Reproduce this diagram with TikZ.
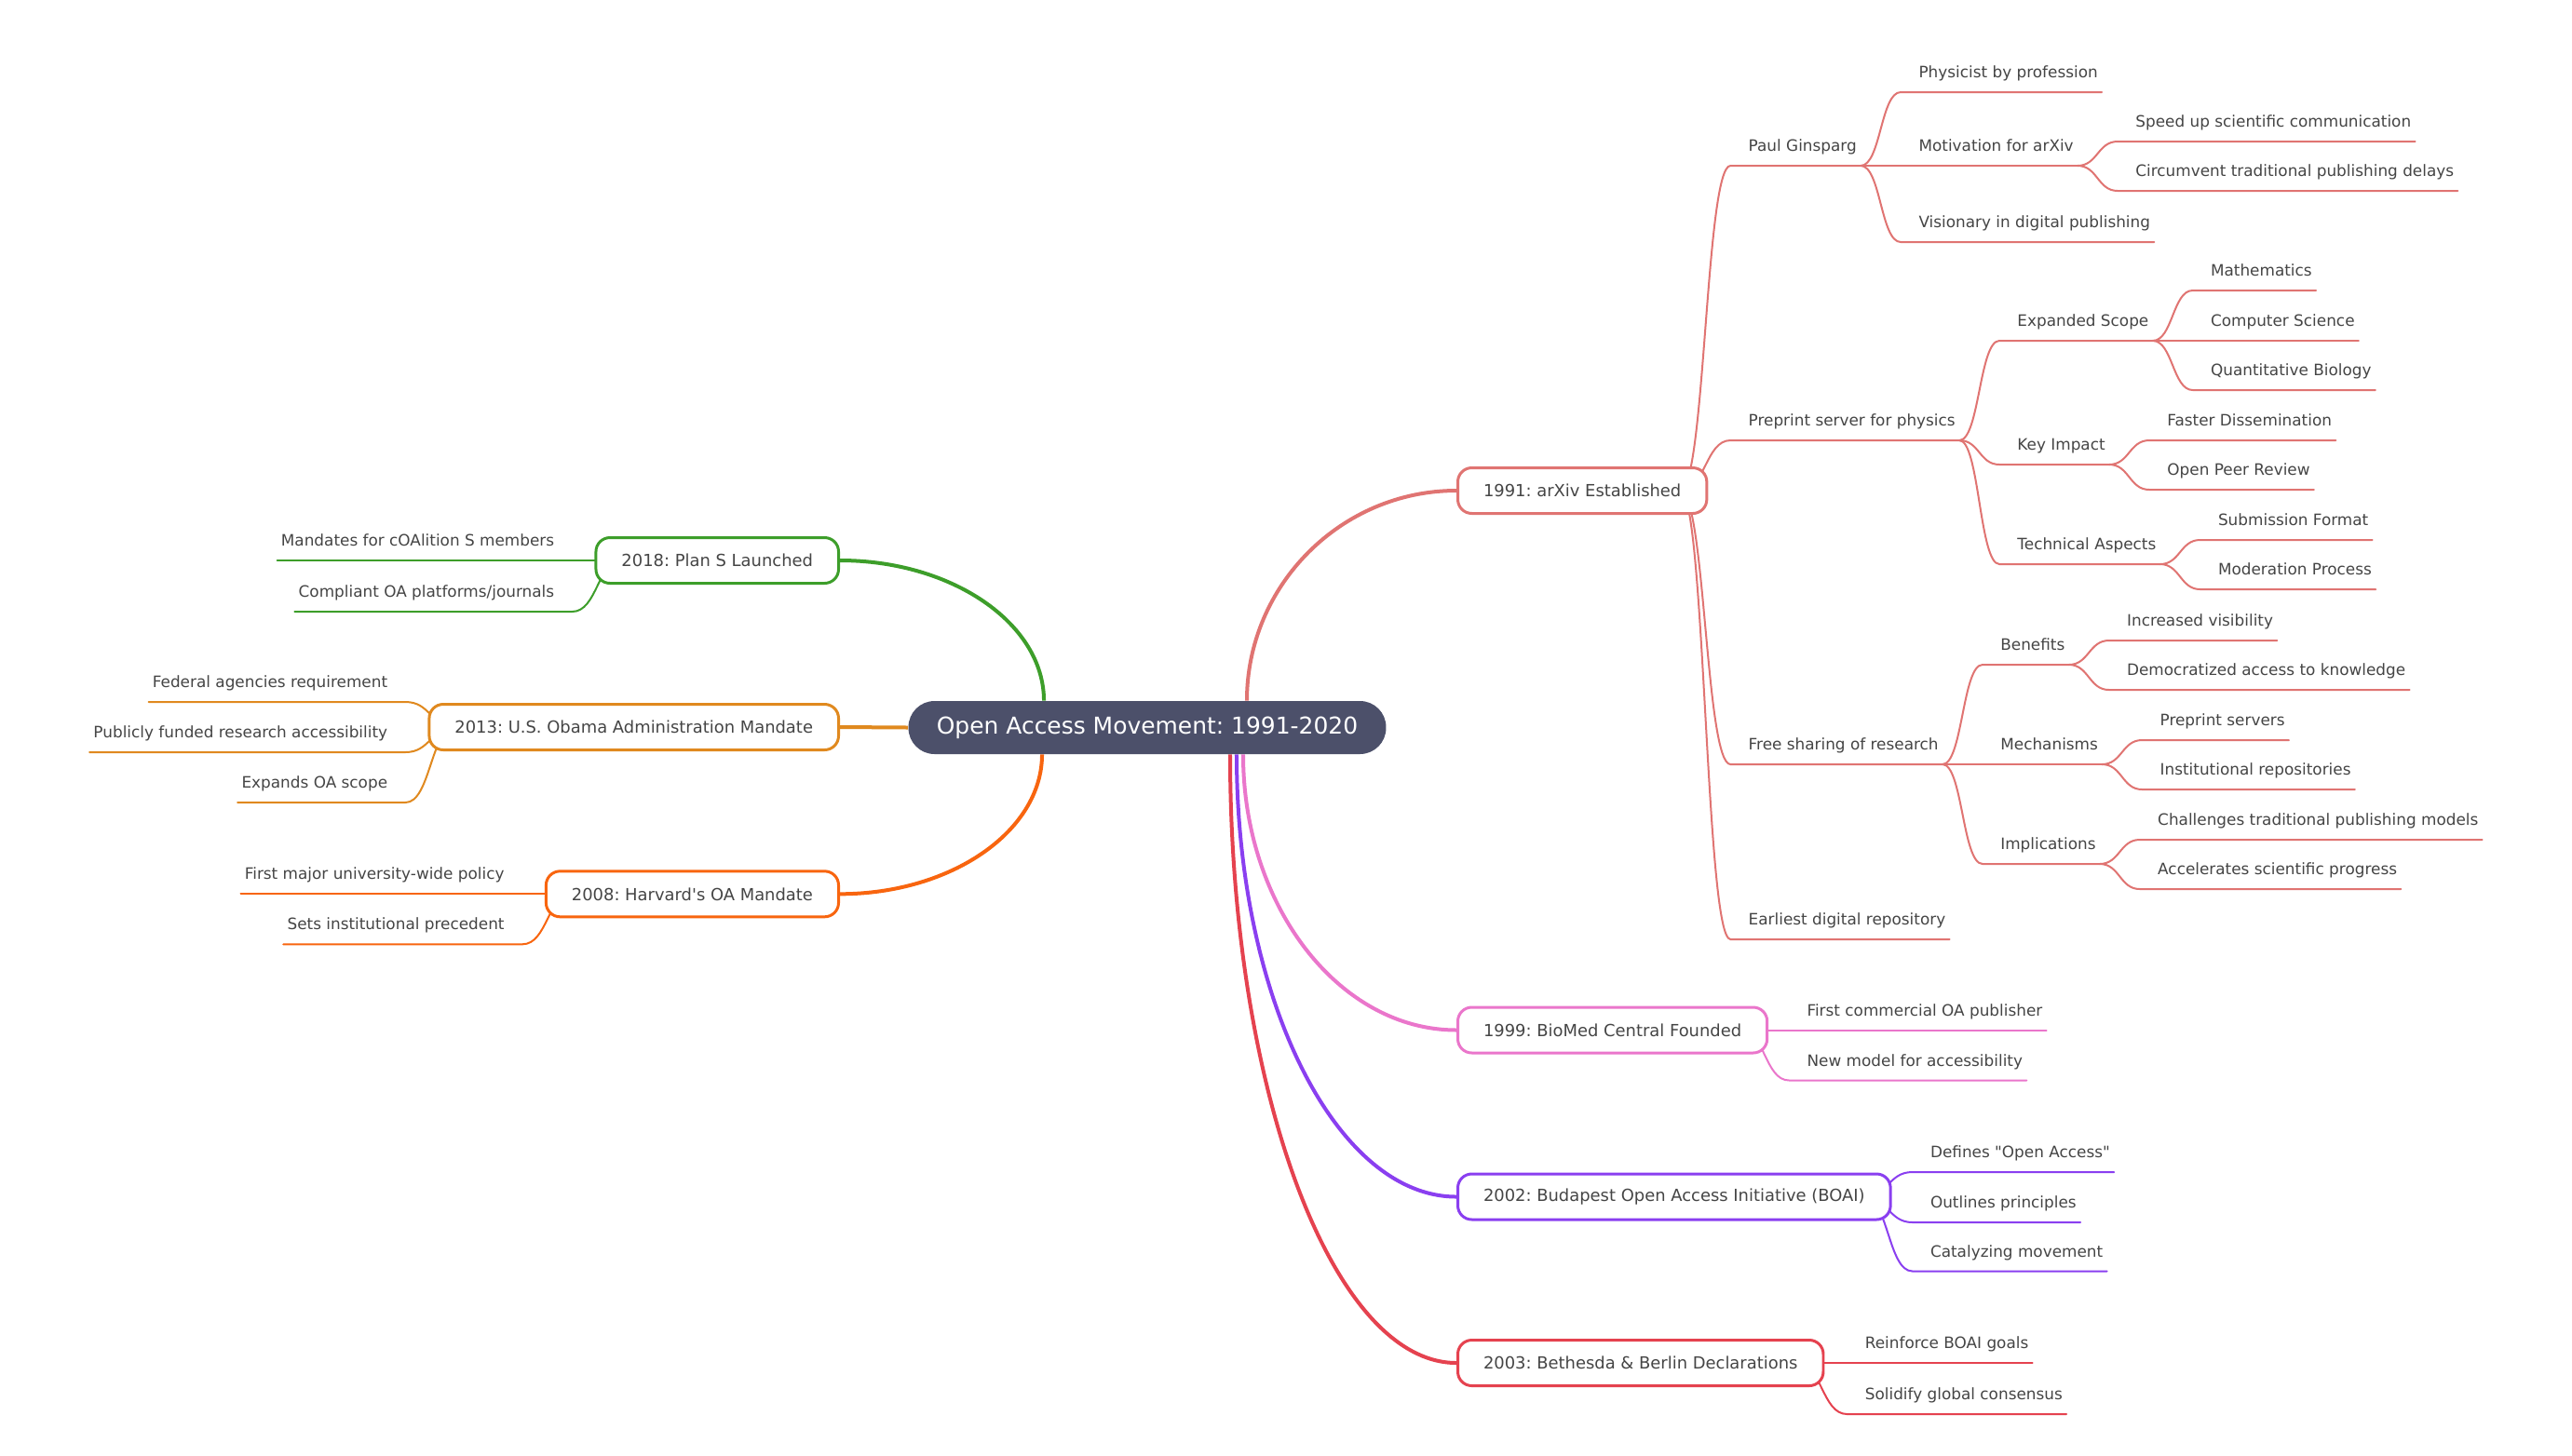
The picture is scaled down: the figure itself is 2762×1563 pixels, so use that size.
\documentclass[tikz,border=0pt]{standalone}
\usepackage{fontspec}
\newfontfamily\dejavu{DejaVu Sans}
\usetikzlibrary{calc, backgrounds}
\frenchspacing

\definecolor{txt}{HTML}{454545}
\definecolor{rootc}{HTML}{4C506A}
\definecolor{axc}{HTML}{E07472}
\definecolor{bmc}{HTML}{EA76CB}
\definecolor{boc}{HTML}{8A3FF0}
\definecolor{bbc}{HTML}{E5424F}
\definecolor{hvc}{HTML}{F8650F}
\definecolor{obc}{HTML}{E0891F}
\definecolor{plc}{HTML}{3D9E2A}

\begin{document}
\begin{tikzpicture}[
    x=0.02cm, y=-0.02cm,
    root/.style={fill=rootc, text=white, rounded corners=0.56cm, minimum width=10.26cm, minimum height=1.14cm, font=\dejavu\fontsize{14.2}{17}\selectfont},
    year/.style={draw, fill=white, line width=0.06cm, rounded corners=0.3cm, minimum height=0.98cm, inner xsep=0.55cm, text=txt, font=\dejavu\fontsize{10.2}{12}\selectfont},
    leaf/.style={anchor=south west, inner sep=0pt, text depth=0.3cm, text=txt, font=\dejavu\fontsize{9.6}{11}\selectfont,
        execute at begin node={\hspace*{0.38cm}}, execute at end node={\hspace*{0.08cm}}},
    lleaf/.style={anchor=south east, inner sep=0pt, text depth=0.3cm, text=txt, font=\dejavu\fontsize{9.6}{11}\selectfont,
        execute at begin node={\hspace*{0.08cm}}, execute at end node={\hspace*{0.38cm}}},
    trunk/.style={line width=0.08cm, to path={.. controls ($(\tikztostart)!0.55!(\tikztostart |- \tikztotarget)$) and ($(\tikztotarget)!0.55!(\tikztostart |- \tikztotarget)$) .. (\tikztotarget)}},
    link/.style={line width=0.04cm, line cap=round, to path={.. controls ($(\tikztostart)!0.5!(\tikztostart -| \tikztotarget)$) and ($(\tikztotarget)!0.5!(\tikztotarget -| \tikztostart)$) .. (\tikztotarget)}}
]
\useasboundingbox (0,0) rectangle (2762,1563);

\node[root] (root) at (1232,781.5) {Open Access Movement: 1991-2020};

\node[year, draw=axc, anchor=west] (ax) at (1564,527) {1991: arXiv Established};
\node[year, draw=bmc, anchor=west] (bm) at (1564,1106.5) {1999: BioMed Central Founded};
\node[year, draw=boc, anchor=west] (bo) at (1564,1285.5) {2002: Budapest Open Access Initiative (BOAI)};
\node[year, draw=bbc, anchor=west] (bb) at (1564,1464) {2003: Bethesda \& Berlin Declarations};
\node[year, draw=plc, anchor=east] (pl) at (902,602) {2018: Plan S Launched};
\node[year, draw=obc, anchor=east] (ob) at (902,781) {2013: U.S. Obama Administration Mandate};
\node[year, draw=hvc, anchor=east] (hv) at (902,960.3) {2008: Harvard's OA Mandate};

\coordinate (t-ax) at ([xshift=2.14cm]root.north);
\coordinate (t-pl) at ([xshift=-2.22cm]root.north);
\coordinate (t-bm) at ([xshift=2.06cm]root.south);
\coordinate (t-bo) at ([xshift=1.92cm]root.south);
\coordinate (t-bb) at ([xshift=1.78cm]root.south);
\coordinate (t-hv) at ([xshift=-2.26cm]root.south);

\coordinate (ax-o) at ([xshift=-0.6cm]ax.east);
\coordinate (bm-o) at ([xshift=-0.6cm]bm.east);
\coordinate (bo-o) at ([xshift=-0.6cm]bo.east);
\coordinate (bb-o) at ([xshift=-0.6cm]bb.east);
\coordinate (pl-o) at ([xshift=0.6cm]pl.west);
\coordinate (ob-o) at ([xshift=0.6cm]ob.west);
\coordinate (hv-o) at ([xshift=0.6cm]hv.west);

% 1991
\node[leaf] (pg) at ([shift={(24,-349)}]ax.east) {Paul Ginsparg};
\node[leaf] (pg1) at ([shift={(43,-79)}]pg.south east) {Physicist by profession};
\node[leaf] (pg2) at ([shift={(43,0)}]pg.south east) {Motivation for arXiv};
\node[leaf] (pg21) at ([shift={(43,-26)}]pg2.south east) {Speed up scientific communication};
\node[leaf] (pg22) at ([shift={(43,27)}]pg2.south east) {Circumvent traditional publishing delays};
\node[leaf] (pg3) at ([shift={(43,82)}]pg.south east) {Visionary in digital publishing};

\node[leaf] (ps) at ([shift={(24,-54)}]ax.east) {Preprint server for physics};
\node[leaf] (ps1) at ([shift={(43,-107)}]ps.south east) {Expanded Scope};
\node[leaf] (ps11) at ([shift={(43,-54)}]ps1.south east) {Mathematics};
\node[leaf] (ps12) at ([shift={(43,0)}]ps1.south east) {Computer Science};
\node[leaf] (ps13) at ([shift={(43,53)}]ps1.south east) {Quantitative Biology};
\node[leaf] (ps2) at ([shift={(43,26)}]ps.south east) {Key Impact};
\node[leaf] (ps21) at ([shift={(43,-26)}]ps2.south east) {Faster Dissemination};
\node[leaf] (ps22) at ([shift={(43,27)}]ps2.south east) {Open Peer Review};
\node[leaf] (ps3) at ([shift={(43,133)}]ps.south east) {Technical Aspects};
\node[leaf] (ps31) at ([shift={(43,-26)}]ps3.south east) {Submission Format};
\node[leaf] (ps32) at ([shift={(43,27)}]ps3.south east) {Moderation Process};

\node[leaf] (fs) at ([shift={(24,294)}]ax.east) {Free sharing of research};
\node[leaf] (fs1) at ([shift={(43,-107)}]fs.south east) {Benefits};
\node[leaf] (fs11) at ([shift={(43,-26)}]fs1.south east) {Increased visibility};
\node[leaf] (fs12) at ([shift={(43,27)}]fs1.south east) {Democratized access to knowledge};
\node[leaf] (fs2) at ([shift={(43,0)}]fs.south east) {Mechanisms};
\node[leaf] (fs21) at ([shift={(43,-26)}]fs2.south east) {Preprint servers};
\node[leaf] (fs22) at ([shift={(43,27)}]fs2.south east) {Institutional repositories};
\node[leaf] (fs3) at ([shift={(43,107)}]fs.south east) {Implications};
\node[leaf] (fs31) at ([shift={(43,-26)}]fs3.south east) {Challenges traditional publishing models};
\node[leaf] (fs32) at ([shift={(43,27)}]fs3.south east) {Accelerates scientific progress};

\node[leaf] (ed) at ([shift={(24,482)}]ax.east) {Earliest digital repository};

% 1999, 2002, 2003
\node[leaf] (bm1) at ([shift={(22,0)}]bm.east) {First commercial OA publisher};
\node[leaf] (bm2) at ([shift={(22,54)}]bm.east) {New model for accessibility};
\node[leaf] (bo1) at ([shift={(22,-26.5)}]bo.east) {Defines "Open Access"};
\node[leaf] (bo2) at ([shift={(22,27.5)}]bo.east) {Outlines principles};
\node[leaf] (bo3) at ([shift={(22,80)}]bo.east) {Catalyzing movement};
\node[leaf] (bb1) at ([shift={(24,0)}]bb.east) {Reinforce BOAI goals};
\node[leaf] (bb2) at ([shift={(24,55)}]bb.east) {Solidify global consensus};

% 2018, 2013, 2008
\node[lleaf] (pl1) at ([shift={(-24,0)}]pl.west) {Mandates for cOAlition S members};
\node[lleaf] (pl2) at ([shift={(-24,55)}]pl.west) {Compliant OA platforms/journals};
\node[lleaf] (ob1) at ([shift={(-24,-27)}]ob.west) {Federal agencies requirement};
\node[lleaf] (ob2) at ([shift={(-24,27)}]ob.west) {Publicly funded research accessibility};
\node[lleaf] (ob3) at ([shift={(-24,81)}]ob.west) {Expands OA scope};
\node[lleaf] (hv1) at ([shift={(-24,0)}]hv.west) {First major university-wide policy};
\node[lleaf] (hv2) at ([shift={(-24,54)}]hv.west) {Sets institutional precedent};

\begin{scope}[on background layer]
\fill[white] (0,0) rectangle (2762,1563);

\draw[trunk, axc] (t-ax) to (ax.west);
\draw[trunk, bmc] (t-bm) to (bm.west);
\draw[trunk, boc] (t-bo) to (bo.west);
\draw[trunk, bbc] (t-bb) to (bb.west);
\draw[trunk, plc] (t-pl) to (pl.east);
\draw[trunk, hvc] (t-hv) to (hv.east);
\draw[obc, line width=0.08cm] (root.west) -- (ob.east);

\draw[link, axc] (ax-o) to (pg.south west) -- (pg.south east);
\draw[link, axc] (pg.south east) to (pg1.south west) -- (pg1.south east);
\draw[link, axc] (pg.south east) to (pg2.south west) -- (pg2.south east);
\draw[link, axc] (pg2.south east) to (pg21.south west) -- (pg21.south east);
\draw[link, axc] (pg2.south east) to (pg22.south west) -- (pg22.south east);
\draw[link, axc] (pg.south east) to (pg3.south west) -- (pg3.south east);
\draw[link, axc] (ax-o) to (ps.south west) -- (ps.south east);
\draw[link, axc] (ps.south east) to (ps1.south west) -- (ps1.south east);
\draw[link, axc] (ps1.south east) to (ps11.south west) -- (ps11.south east);
\draw[link, axc] (ps1.south east) to (ps12.south west) -- (ps12.south east);
\draw[link, axc] (ps1.south east) to (ps13.south west) -- (ps13.south east);
\draw[link, axc] (ps.south east) to (ps2.south west) -- (ps2.south east);
\draw[link, axc] (ps2.south east) to (ps21.south west) -- (ps21.south east);
\draw[link, axc] (ps2.south east) to (ps22.south west) -- (ps22.south east);
\draw[link, axc] (ps.south east) to (ps3.south west) -- (ps3.south east);
\draw[link, axc] (ps3.south east) to (ps31.south west) -- (ps31.south east);
\draw[link, axc] (ps3.south east) to (ps32.south west) -- (ps32.south east);
\draw[link, axc] (ax-o) to (fs.south west) -- (fs.south east);
\draw[link, axc] (fs.south east) to (fs1.south west) -- (fs1.south east);
\draw[link, axc] (fs1.south east) to (fs11.south west) -- (fs11.south east);
\draw[link, axc] (fs1.south east) to (fs12.south west) -- (fs12.south east);
\draw[link, axc] (fs.south east) to (fs2.south west) -- (fs2.south east);
\draw[link, axc] (fs2.south east) to (fs21.south west) -- (fs21.south east);
\draw[link, axc] (fs2.south east) to (fs22.south west) -- (fs22.south east);
\draw[link, axc] (fs.south east) to (fs3.south west) -- (fs3.south east);
\draw[link, axc] (fs3.south east) to (fs31.south west) -- (fs31.south east);
\draw[link, axc] (fs3.south east) to (fs32.south west) -- (fs32.south east);
\draw[link, axc] (ax-o) to (ed.south west) -- (ed.south east);

\draw[link, bmc] (bm-o) to (bm1.south west) -- (bm1.south east);
\draw[link, bmc] (bm-o) to (bm2.south west) -- (bm2.south east);
\draw[link, boc] (bo-o) to (bo1.south west) -- (bo1.south east);
\draw[link, boc] (bo-o) to (bo2.south west) -- (bo2.south east);
\draw[link, boc] (bo-o) to (bo3.south west) -- (bo3.south east);
\draw[link, bbc] (bb-o) to (bb1.south west) -- (bb1.south east);
\draw[link, bbc] (bb-o) to (bb2.south west) -- (bb2.south east);

\draw[link, plc] (pl-o) to (pl1.south east) -- (pl1.south west);
\draw[link, plc] (pl-o) to (pl2.south east) -- (pl2.south west);
\draw[link, obc] (ob-o) to (ob1.south east) -- (ob1.south west);
\draw[link, obc] (ob-o) to (ob2.south east) -- (ob2.south west);
\draw[link, obc] (ob-o) to (ob3.south east) -- (ob3.south west);
\draw[link, hvc] (hv-o) to (hv1.south east) -- (hv1.south west);
\draw[link, hvc] (hv-o) to (hv2.south east) -- (hv2.south west);
\end{scope}
\end{tikzpicture}
\end{document}
